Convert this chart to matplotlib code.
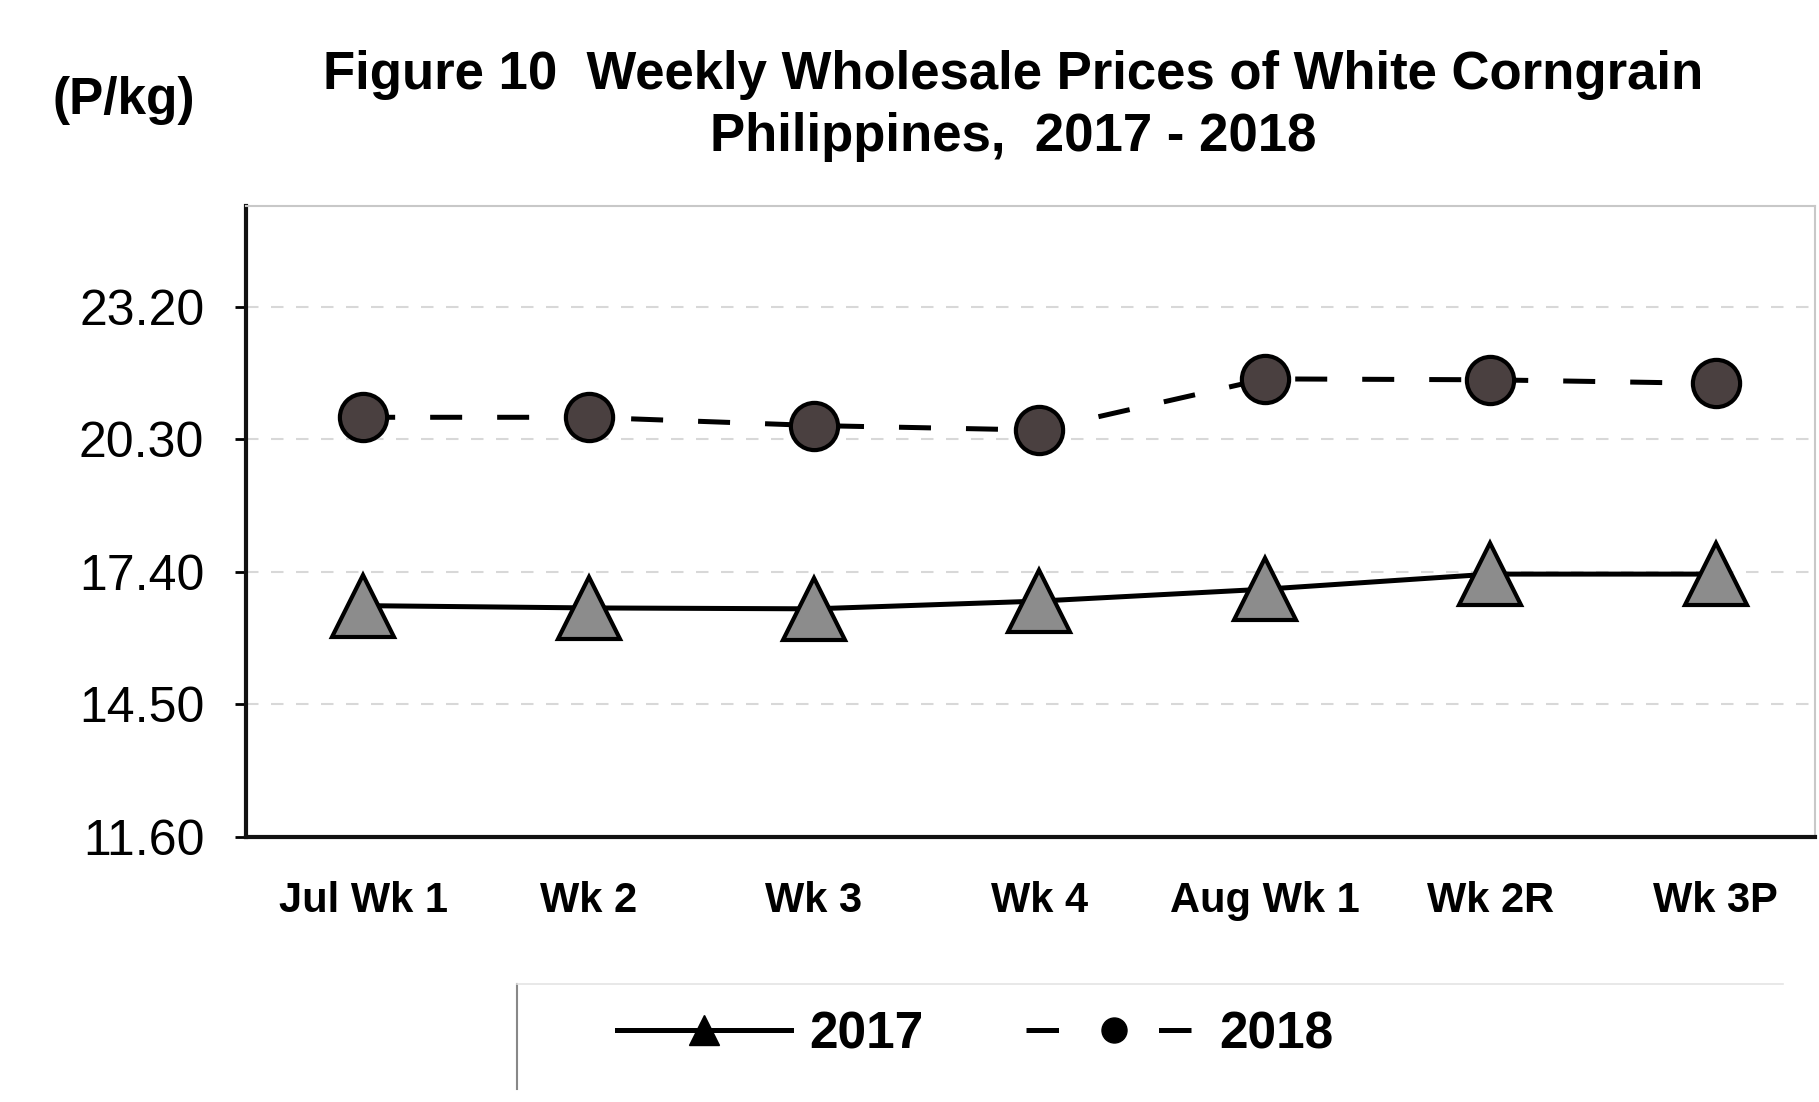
import matplotlib.pyplot as plt
import matplotlib.lines as mlines

plt.rcParams['font.family'] = ['Liberation Sans', 'DejaVu Sans']

# data
weeks = ['Jul Wk 1', 'Wk 2', 'Wk 3', 'Wk 4', 'Aug Wk 1', 'Wk 2R', 'Wk 3P']
price_2017 = [16.66, 16.61, 16.59, 16.76, 17.02, 17.35, 17.35]
price_2018 = [20.78, 20.78, 20.60, 20.50, 21.62, 21.60, 21.52]
yticks = [11.60, 14.50, 17.40, 20.30, 23.20]

fig = plt.figure(figsize=(18.19, 11.02), dpi=100)
ax = fig.add_axes([0.1352, 0.2405, 0.8626, 0.5725])

x = list(range(len(weeks)))
dash = (0, (6.4, 7))

ax.plot(x, price_2017, color='black', lw=3.6, ls='-',
        marker='^', markersize=44, markerfacecolor='#8c8c8c',
        markeredgecolor='black', markeredgewidth=3, label='2017', zorder=3)
ax.plot(x, price_2018, color='black', lw=3.6, ls=dash,
        marker='o', markersize=34, markerfacecolor='#4a4040',
        markeredgecolor='black', markeredgewidth=3, label='2018', zorder=3)

ax.set_xlim(-0.52, 6.44)
ax.set_ylim(11.6, 25.4)
ax.set_xticks(x)
ax.set_xticklabels(weeks, fontsize=30, fontweight='bold')
ax.set_yticks(yticks)
ax.set_yticklabels(['%.2f' % v for v in yticks], fontsize=36)
ax.tick_params(axis='x', length=0, pad=32)
ax.tick_params(axis='y', length=8, width=2, pad=22, direction='out')

ax.grid(axis='y', color='#d8d8d8', lw=1.5, ls=(0, (6, 6)))
ax.set_axisbelow(True)

for side in ['left', 'bottom']:
    ax.spines[side].set_linewidth(3)
    ax.spines[side].set_color('#111111')
for side in ['top', 'right']:
    ax.spines[side].set_linewidth(1.5)
    ax.spines[side].set_color('#c8c8c8')

fig.text(0.557, 0.932, 'Figure 10  Weekly Wholesale Prices of White Corngrain',
         ha='center', va='center', fontsize=38, fontweight='bold')
fig.text(0.557, 0.876, 'Philippines,  2017 - 2018',
         ha='center', va='center', fontsize=38, fontweight='bold')
fig.text(0.068, 0.909, '(P/kg)', ha='center', va='center',
         fontsize=37, fontweight='bold')

h17 = mlines.Line2D([], [], color='black', lw=3.6, marker='^', markersize=22,
                    markerfacecolor='black', markeredgecolor='black')
h18 = mlines.Line2D([], [], color='black', lw=3.6, ls=(0, (6.5, 20)),
                    marker='o', markersize=18, markerfacecolor='black',
                    markeredgecolor='black')
leg = fig.legend([h17, h18], ['2017', '2018'], loc='center',
                 bbox_to_anchor=(0.536, 0.061), ncol=2, frameon=False,
                 prop={'size': 37, 'weight': 'bold'}, handlelength=3.4,
                 handletextpad=0.35, columnspacing=2.0)

# left border of the legend box as in the scan
fig.add_artist(mlines.Line2D([0.284, 0.284], [0.012, 0.107],
                             transform=fig.transFigure, color='#888888', lw=1.5))
fig.add_artist(mlines.Line2D([0.284, 0.98], [0.107, 0.107],
                             transform=fig.transFigure, color='#e4e4e4', lw=1.2))

fig.savefig('out.png', dpi=100)
